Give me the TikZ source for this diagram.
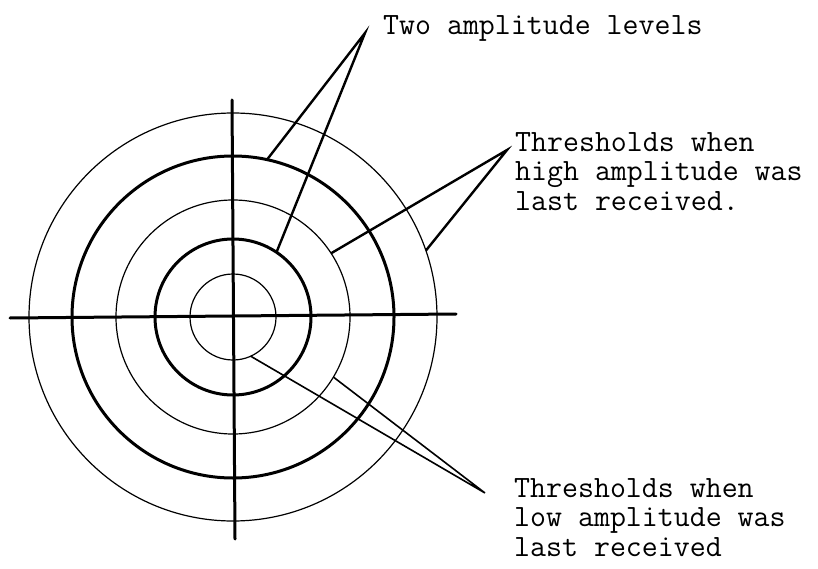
\documentclass[tikz,border=0pt]{standalone}
\usetikzlibrary{calc}
\begin{document}
\begin{tikzpicture}[x=1pt, y=-1pt,
  thinring/.style={line width=1.2pt},
  thickring/.style={line width=3pt},
  axis/.style={line width=3pt, line cap=round},
  lead/.style={line width=2.4pt, line join=miter},
  lowlead/.style={line width=1.6pt, line join=miter},
  note/.style={font=\fontsize{31}{29.5}\selectfont\ttfamily, inner sep=0pt, align=left}]
\useasboundingbox (0,0) rectangle (818,569);
\coordinate (c) at (233,317);
% rings, thin = thresholds, thick = amplitude levels
\draw[thinring] (c) circle[radius=43pt];
\draw[thickring] (c) circle[radius=78pt];
\draw[thinring] (c) circle[radius=117pt];
\draw[thickring] (c) circle[radius=161pt];
\draw[thinring] (c) circle[radius=204pt];
\coordinate (xl) at (10,318); \coordinate (xr) at (456,314);
\coordinate (yt) at (232,100); \coordinate (yb) at (235,539);
\draw[axis] (xl) -- (xr);
\draw[axis] (yt) -- (yb);
% labels
\node[note, anchor=base west] (two) at (383,35) {Two amplitude levels};
\node[note, anchor=north west] (high) at (515,132) {Thresholds when\\high amplitude was\\last received.};
\node[note, anchor=north west] (low) at (514,478) {Thresholds when\\low amplitude was\\last received};
% leaders
\coordinate (twoTip) at (365,33);
\coordinate (highTip) at (507,150);
\coordinate (lowTip) at (485,493);
\coordinate (lvlOut) at ($(c)+(77.8:161pt)$);
\coordinate (lvlIn) at ($(c)+(56.1:78pt)$);
\coordinate (hiIn) at ($(c)+(33:117pt)$);
\coordinate (hiOut) at ($(c)+(19:204pt)$);
\coordinate (loIn) at ($(c)+(-65.7:43pt)$);
\coordinate (loOut) at ($(c)+(-30.9:117pt)$);
\draw[lead] (lvlOut) -- (twoTip) -- (lvlIn);
\draw[lead] (hiIn) -- (highTip) -- (hiOut);
\draw[lowlead] (loIn) -- (lowTip) -- (loOut);
\end{tikzpicture}
\end{document}
